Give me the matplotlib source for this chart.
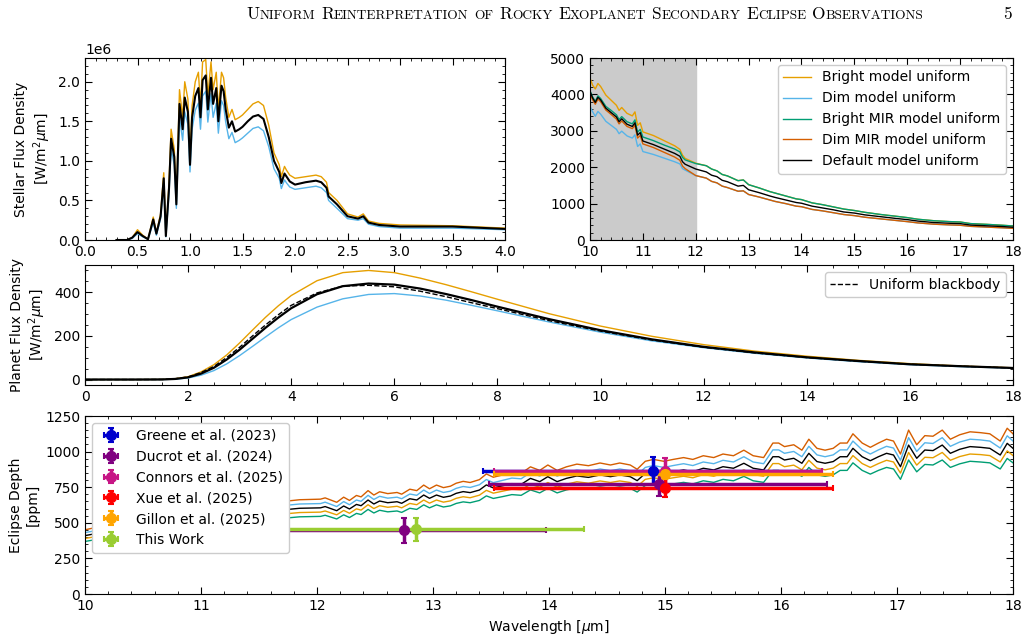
import matplotlib
matplotlib.use('Agg')
import matplotlib.pyplot as plt
import numpy as np
from matplotlib.ticker import MultipleLocator

# ---------------- stellar spectrum 0-4 um  (units of 1e6 W/m^2/um)
wl_star = [0.30, 0.40, 0.45, 0.50, 0.55, 0.60, 0.65, 0.68, 0.72, 0.75,
           0.77, 0.80, 0.82, 0.85, 0.87, 0.90, 0.93, 0.95, 0.98, 1.00,
           1.02, 1.05, 1.08, 1.10, 1.12, 1.15, 1.17, 1.20, 1.22, 1.25,
           1.27, 1.30, 1.32, 1.34, 1.37, 1.40, 1.43, 1.47, 1.50, 1.55,
           1.60, 1.65, 1.70, 1.75, 1.80, 1.85, 1.87, 1.90, 1.92, 1.95,
           2.00, 2.10, 2.20, 2.25, 2.30, 2.32, 2.40, 2.50, 2.60, 2.65,
           2.70, 2.80, 3.00, 3.50, 4.00]
star_default = [0, 0, 0.03, 0.10, 0.05, 0.01, 0.26, 0.08, 0.30, 0.78,
                0.05, 0.65, 1.28, 1.05, 0.45, 1.72, 1.40, 1.80, 1.62, 0.95,
                1.55, 1.82, 1.92, 1.55, 2.02, 2.08, 1.65, 2.05, 1.72, 1.92,
                1.50, 1.95, 1.88, 1.65, 1.42, 1.50, 1.37, 1.40, 1.43, 1.50,
                1.56, 1.58, 1.53, 1.30, 1.00, 0.86, 0.72, 0.84, 0.80, 0.74,
                0.70, 0.73, 0.75, 0.73, 0.66, 0.55, 0.45, 0.30, 0.27, 0.30,
                0.22, 0.19, 0.17, 0.17, 0.14]
star_bright = [0, 0, 0.03, 0.13, 0.06, 0.01, 0.29, 0.09, 0.33, 0.85,
               0.06, 0.72, 1.40, 1.15, 0.50, 1.90, 1.55, 2.00, 1.78, 1.05,
               1.70, 2.00, 2.12, 1.70, 2.25, 2.28, 1.82, 2.25, 1.90, 2.12,
               1.65, 2.12, 2.05, 1.80, 1.55, 1.65, 1.52, 1.55, 1.58, 1.65,
               1.72, 1.75, 1.70, 1.45, 1.10, 0.95, 0.80, 0.93, 0.88, 0.82,
               0.78, 0.80, 0.82, 0.80, 0.73, 0.60, 0.50, 0.33, 0.29, 0.33,
               0.24, 0.21, 0.19, 0.18, 0.15]
star_dim = [0, 0, 0.02, 0.08, 0.04, 0.01, 0.22, 0.06, 0.27, 0.70,
            0.04, 0.58, 1.15, 0.95, 0.40, 1.55, 1.26, 1.62, 1.46, 0.86,
            1.40, 1.64, 1.73, 1.40, 1.82, 1.88, 1.49, 1.85, 1.55, 1.73,
            1.35, 1.76, 1.70, 1.49, 1.28, 1.36, 1.23, 1.26, 1.29, 1.35,
            1.41, 1.43, 1.38, 1.18, 0.90, 0.78, 0.65, 0.76, 0.72, 0.67,
            0.64, 0.66, 0.68, 0.66, 0.60, 0.50, 0.40, 0.27, 0.25, 0.27,
            0.20, 0.17, 0.15, 0.15, 0.13]

# ---------------- stellar spectrum 10-18 um (W/m^2/um)
wl_mir = [10.0, 10.05, 10.1, 10.15, 10.2, 10.3, 10.4, 10.5, 10.55, 10.6,
          10.7, 10.8, 10.85, 10.9, 10.95, 11.0, 11.2, 11.4, 11.6, 11.7,
          11.75, 11.8, 12.0, 12.2, 12.3, 12.4, 12.5, 12.6, 12.8, 12.9,
          13.0, 13.2, 13.4, 13.5, 13.7, 13.9, 14.0, 14.2, 14.4, 14.6,
          14.8, 15.0, 15.2, 15.5, 15.8, 16.0, 16.2, 16.5, 16.8, 17.0,
          17.2, 17.5, 17.8, 18.0]
mir_bright = [4450, 4250, 4150, 4300, 4220, 3980, 3840, 3700, 3560, 3640,
              3480, 3410, 3520, 3150, 3220, 2970, 2870, 2730, 2590, 2490,
              2330, 2240, 2110, 2040, 1950, 1900, 1800, 1760, 1630, 1650,
              1520, 1430, 1330, 1290, 1210, 1130, 1110, 1020, 970, 910,
              850, 810, 760, 700, 650, 615, 570, 530, 505, 495,
              450, 430, 405, 385]
mir_dim = [3680, 3520, 3400, 3530, 3460, 3260, 3150, 3040, 2920, 2990,
           2860, 2800, 2890, 2570, 2640, 2430, 2350, 2250, 2150, 2090,
           1960, 1920, 1770, 1700, 1610, 1570, 1480, 1440, 1340, 1350,
           1250, 1180, 1100, 1060, 1000, 930, 915, 840, 800, 750,
           700, 670, 625, 580, 535, 505, 470, 435, 415, 405,
           375, 355, 335, 320]
mir_bright_mir = [4100, 3930, 3810, 3960, 3890, 3670, 3560, 3440, 3310, 3390,
                  3250, 3190, 3300, 2960, 3040, 2830, 2730, 2610, 2500, 2420,
                  2270, 2200, 2100, 2040, 1950, 1900, 1800, 1760, 1630, 1650,
                  1520, 1430, 1330, 1290, 1210, 1130, 1110, 1020, 970, 910,
                  850, 810, 760, 700, 650, 615, 570, 530, 505, 495,
                  450, 430, 405, 385]
mir_dim_mir = [4030, 3850, 3730, 3870, 3800, 3570, 3450, 3320, 3190, 3270,
               3120, 3060, 3150, 2800, 2870, 2640, 2540, 2410, 2280, 2190,
               2030, 1960, 1770, 1700, 1610, 1570, 1480, 1440, 1340, 1350,
               1250, 1180, 1100, 1060, 1000, 930, 915, 840, 800, 750,
               700, 670, 625, 580, 535, 505, 470, 435, 415, 405,
               375, 355, 335, 320]
mir_default = [4080, 3900, 3780, 3920, 3850, 3620, 3500, 3380, 3250, 3330,
               3180, 3120, 3220, 2880, 2950, 2720, 2620, 2500, 2380, 2300,
               2150, 2080, 1950, 1870, 1780, 1740, 1640, 1600, 1480, 1500,
               1380, 1300, 1210, 1170, 1100, 1030, 1010, 930, 880, 830,
               770, 740, 690, 640, 590, 560, 520, 480, 460, 450,
               410, 390, 370, 350]

# ---------------- planet flux density 0-18 um
wl_planet = [0, 1, 1.5, 1.75, 2, 2.25, 2.5, 2.75, 3, 3.25, 3.5, 3.75, 4, 4.5, 5,
             5.5, 6, 6.5, 7, 7.5, 8, 9, 10, 11, 12, 13, 14, 15, 16, 17, 18]
planet_bright = [0, 0, 0.6, 3.8, 13, 35, 68, 113, 168, 227, 285, 338, 385, 453, 490,
                 500, 490, 465, 435, 402, 368, 302, 245, 198, 160, 130, 107, 88, 73, 62, 54]
planet_dim = [0, 0, 0.2, 1.8, 7, 20, 41, 72, 110, 152, 195, 237, 275, 332, 370,
              390, 394, 383, 364, 340, 315, 264, 217, 177, 146, 120, 99, 82, 68, 59, 52]
planet_default = [0, 0, 0.4, 2.8, 10, 27, 54, 92, 137, 187, 237, 284, 327, 391, 428,
                  440, 435, 417, 392, 364, 334, 277, 226, 184, 150, 124, 102, 85, 70, 61, 53]
planet_blackbody = [0, 0, 0.5, 3.5, 12, 32, 60, 101, 148, 200, 250, 297, 340, 397, 428,
                    432, 425, 405, 380, 352, 325, 270, 222, 181, 148, 122, 101, 84, 70, 61, 53]

# ---------------- eclipse depth models 10-18 um (ppm)
wl_ecl = [10.00, 10.10, 10.20, 10.30, 10.40, 10.50, 10.60, 10.70, 10.80, 10.90,
          11.00, 11.10, 11.20, 11.30, 11.40, 11.50, 11.60, 11.70, 11.85, 12.03,
          12.07, 12.17, 12.23, 12.28, 12.34, 12.38, 12.44, 12.49, 12.54, 12.61,
          12.69, 12.73, 12.80, 12.86, 12.92, 12.97, 13.03, 13.09, 13.15, 13.20,
          13.26, 13.32, 13.40, 13.46, 13.52, 13.60, 13.68, 13.76, 13.84, 13.92,
          13.99, 14.07, 14.15, 14.24, 14.34, 14.44, 14.53, 14.61, 14.70, 14.76,
          14.83, 14.90, 14.99, 15.07, 15.16, 15.24, 15.33, 15.42, 15.50, 15.59,
          15.68, 15.76, 15.85, 15.93, 15.98, 16.03, 16.11, 16.18, 16.24, 16.31,
          16.38, 16.45, 16.51, 16.57, 16.62, 16.70, 16.77, 16.84, 16.91, 16.97,
          17.03, 17.10, 17.17, 17.24, 17.31, 17.39, 17.46, 17.54, 17.63, 17.72,
          17.80, 17.89, 17.95, 18.00]
ecl_bright = [390, 404, 418, 428, 439, 447, 464, 470, 480, 489,
              494, 505, 513, 523, 532, 540, 551, 561, 572, 575,
              583, 556, 587, 567, 598, 589, 627, 600, 620, 609,
              616, 605, 636, 627, 660, 638, 660, 645, 654, 672,
              683, 676, 694, 728, 708, 722, 736, 732, 771, 750,
              783, 750, 771, 788, 778, 794, 783, 794, 783, 756,
              805, 816, 805, 816, 827, 816, 839, 827, 849, 839,
              872, 839, 827, 916, 916, 894, 905, 872, 939, 884,
              872, 884, 916, 916, 972, 916, 889, 916, 939, 927,
              849, 994, 905, 960, 957, 994, 939, 965, 983, 979,
              972, 927, 1005, 972]
ecl_dim = [431, 446, 462, 473, 485, 494, 512, 520, 530, 541,
           546, 559, 567, 578, 588, 596, 609, 620, 632, 635,
           645, 614, 649, 627, 660, 651, 693, 664, 686, 673,
           680, 669, 702, 693, 730, 706, 730, 713, 722, 742,
           755, 748, 767, 804, 782, 798, 814, 809, 853, 828,
           865, 828, 853, 870, 860, 878, 865, 878, 865, 836,
           889, 902, 889, 902, 915, 902, 927, 915, 939, 927,
           964, 927, 915, 1012, 1012, 988, 1001, 964, 1037, 977,
           964, 977, 1012, 1012, 1074, 1012, 983, 1012, 1037, 1025,
           939, 1098, 1001, 1062, 1057, 1098, 1037, 1067, 1087, 1082,
           1074, 1025, 1111, 1074]
ecl_bright_mir = [369, 383, 396, 405, 416, 423, 439, 446, 455, 464,
                  468, 479, 486, 495, 504, 511, 522, 531, 542, 545,
                  553, 527, 556, 537, 566, 558, 594, 569, 588, 577,
                  583, 573, 602, 594, 626, 605, 626, 611, 619, 636,
                  647, 641, 657, 689, 671, 684, 698, 693, 731, 710,
                  742, 710, 731, 746, 737, 752, 742, 752, 742, 716,
                  762, 773, 762, 773, 784, 773, 795, 784, 805, 795,
                  826, 795, 784, 868, 868, 847, 858, 826, 889, 837,
                  826, 837, 868, 868, 921, 868, 842, 868, 889, 878,
                  805, 941, 858, 910, 906, 941, 889, 914, 932, 927,
                  921, 878, 952, 921]
ecl_dim_mir = [451, 468, 484, 495, 508, 517, 537, 545, 556, 567,
               572, 585, 594, 605, 616, 625, 638, 649, 662, 666,
               675, 644, 680, 657, 692, 682, 726, 695, 718, 705,
               713, 701, 736, 726, 765, 739, 765, 747, 757, 778,
               791, 783, 803, 843, 820, 836, 853, 847, 893, 868,
               906, 868, 893, 912, 901, 920, 906, 920, 906, 876,
               932, 945, 932, 945, 958, 945, 971, 958, 983, 971,
               1010, 971, 958, 1060, 1060, 1035, 1048, 1010, 1087, 1023,
               1010, 1023, 1060, 1060, 1125, 1060, 1030, 1060, 1087, 1074,
               983, 1151, 1048, 1112, 1108, 1151, 1087, 1118, 1139, 1133,
               1125, 1074, 1164, 1125]
ecl_default = [410, 425, 440, 450, 462, 470, 488, 495, 505, 515,
               520, 532, 540, 550, 560, 568, 580, 590, 602, 605,
               614, 585, 618, 597, 629, 620, 660, 632, 653, 641,
               648, 637, 669, 660, 695, 672, 695, 679, 688, 707,
               719, 712, 730, 766, 745, 760, 775, 770, 812, 789,
               824, 789, 812, 829, 819, 836, 824, 836, 824, 796,
               847, 859, 847, 859, 871, 859, 883, 871, 894, 883,
               918, 883, 871, 964, 964, 941, 953, 918, 988, 930,
               918, 930, 964, 964, 1023, 964, 936, 964, 988, 976,
               894, 1046, 953, 1011, 1007, 1046, 988, 1016, 1035, 1030,
               1023, 976, 1058, 1023]

# ---------------- observations
obs_labels = ['Greene et al. (2023)', 'Ducrot et al. (2024)', 'Connors et al. (2025)',
              'Xue et al. (2025)', 'Gillon et al. (2025)', 'This Work']
obs_colors = ['mediumblue', 'purple', 'mediumvioletred', 'red', 'orange', 'yellowgreen']
obs_wl = [[14.90], [12.75, 14.95], [15.00], [15.00], [15.00], [12.85]]
obs_depth = [[861], [446, 775], [864], [745], [840], [455]]
obs_err = [[99], [88, 90], [91], [64], [30], [80]]
obs_wl_lo = [[1.47], [1.22, 1.47], [1.47], [1.47], [1.47], [1.45]]
obs_wl_hi = [[1.45], [1.22, 1.45], [1.35], [1.45], [1.45], [1.45]]

C_BRIGHT, C_DIM = '#E69F00', '#56B4E9'
C_BMIR, C_DMIR = '#009E73', '#D55E00'


def style(ax, xmaj, xmin, ymaj, ymin):
    ax.xaxis.set_major_locator(MultipleLocator(xmaj))
    ax.xaxis.set_minor_locator(MultipleLocator(xmin))
    ax.yaxis.set_major_locator(MultipleLocator(ymaj))
    ax.yaxis.set_minor_locator(MultipleLocator(ymin))
    ax.tick_params(which='both', direction='in', top=True, right=True, labelsize=10)
    ax.tick_params(which='major', length=5)
    ax.tick_params(which='minor', length=2.5)


fig = plt.figure(figsize=(10.3, 6.39), dpi=100)
W, H = 1030, 639
ax1 = fig.add_axes([85 / W, 1 - 240 / H, 420 / W, 182 / H])
ax2 = fig.add_axes([590 / W, 1 - 240 / H, 423 / W, 182 / H])
ax3 = fig.add_axes([85 / W, 1 - 385 / H, 928 / W, 120 / H])
ax4 = fig.add_axes([85 / W, 1 - 594 / H, 928 / W, 178 / H])

# --- top left: stellar spectrum
ax1.plot(wl_star, np.array(star_bright) * 1e6, color=C_BRIGHT, lw=1)
ax1.plot(wl_star, np.array(star_dim) * 1e6, color=C_DIM, lw=1)
ax1.plot(wl_star, np.array(star_default) * 1e6, color='black', lw=1.5)
ax1.set_xlim(0, 4)
ax1.set_ylim(0, 2.3e6)
style(ax1, 0.5, 0.1, 0.5e6, 0.1e6)
ax1.yaxis.get_offset_text().set_fontsize(10)
ax1.set_ylabel('Stellar Flux Density\n[W/m$^2\\mu$m]', fontsize=10)

# --- top right: MIR stellar spectrum
ax2.axvspan(10, 12, color='#cbcbcb', zorder=0)
ax2.plot(wl_mir, mir_bright, color=C_BRIGHT, lw=1, label='Bright model uniform')
ax2.plot(wl_mir, mir_dim, color=C_DIM, lw=1, label='Dim model uniform')
ax2.plot(wl_mir, mir_bright_mir, color=C_BMIR, lw=1, label='Bright MIR model uniform')
ax2.plot(wl_mir, mir_dim_mir, color=C_DMIR, lw=1, label='Dim MIR model uniform')
ax2.plot(wl_mir, mir_default, color='black', lw=1, label='Default model uniform')
ax2.set_xlim(10, 18)
ax2.set_ylim(0, 5000)
style(ax2, 1, 0.2, 1000, 200)
ax2.legend(loc='upper right', fontsize=10, framealpha=1)

# --- middle: planet flux
ax3.plot(wl_planet, planet_bright, color=C_BRIGHT, lw=1)
ax3.plot(wl_planet, planet_dim, color=C_DIM, lw=1)
ax3.plot(wl_planet, planet_default, color='black', lw=1.6)
ax3.plot(wl_planet, planet_blackbody, color='black', lw=1, ls='--', label='Uniform blackbody')
ax3.set_xlim(0, 18)
ax3.set_ylim(-25, 525)
style(ax3, 2, 0.5, 200, 50)
ax3.legend(loc='upper right', fontsize=10, framealpha=1)
ax3.set_ylabel('Planet Flux Density\n[W/m$^2\\mu$m]', fontsize=10)

# --- bottom: eclipse depth
ax4.plot(wl_ecl, ecl_bright, color=C_BRIGHT, lw=1)
ax4.plot(wl_ecl, ecl_dim, color=C_DIM, lw=1)
ax4.plot(wl_ecl, ecl_bright_mir, color=C_BMIR, lw=1)
ax4.plot(wl_ecl, ecl_dim_mir, color=C_DMIR, lw=1)
ax4.plot(wl_ecl, ecl_default, color='black', lw=1)
for lab, col, x, y, e, xl, xh in zip(obs_labels, obs_colors, obs_wl, obs_depth,
                                     obs_err, obs_wl_lo, obs_wl_hi):
    ax4.errorbar(x, y, yerr=e, xerr=[xl, xh], fmt='o', color=col, ms=7,
                 elinewidth=2.5, capsize=2, capthick=1.5, label=lab, zorder=5)
ax4.set_xlim(10, 18)
ax4.set_ylim(0, 1250)
style(ax4, 1, 0.2, 250, 50)
leg = ax4.legend(loc='upper left', fontsize=10, framealpha=1)
leg.set_zorder(10)
ax4.set_ylabel('Eclipse Depth\n[ppm]', fontsize=10)
ax4.set_xlabel('Wavelength [$\\mu$m]', fontsize=10)

# --- running header in small caps
words = ['Uniform', 'Reinterpretation', 'of', 'Rocky', 'Exoplanet',
         'Secondary', 'Eclipse', 'Observations']
renderer = fig.canvas.get_renderer()
big, small = 12.5, 9.6
x = 0.0
texts = []
for w in words:
    parts = []
    rest = w
    if w[0].isupper():
        parts.append((w[0], big))
        rest = w[1:]
    if rest:
        parts.append((rest.upper(), small))
    for s, size in parts:
        t = fig.text(x / W, 0.970, s, fontsize=size, family='cmr10', va='baseline')
        x += t.get_window_extent(renderer).width
        texts.append(t)
    x += big * 100 / 72 * 0.33
x -= big * 100 / 72 * 0.33
shift = 585 - x / 2
for t in texts:
    px, py = t.get_position()
    t.set_position((px + shift / W, py))
fig.text(1012 / W, 0.970, '5', fontsize=big, family='cmr10', va='baseline', ha='right')

fig.savefig('out.png', dpi=100)
